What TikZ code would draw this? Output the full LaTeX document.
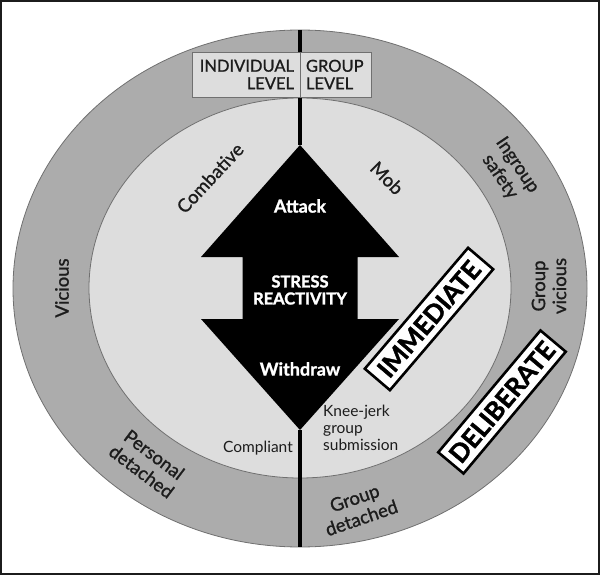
\documentclass[tikz,border=0pt]{standalone}
\usepackage{fontspec}
\setmainfont{Lato}
\newfontfamily\medium{Lato}[FakeBold=1.1]
\newfontfamily\heavy{Lato}[BoldFeatures={FakeBold=1.6}]
\usetikzlibrary{positioning}

\definecolor{ringgray}{RGB}{172,172,172}
\definecolor{coregray}{RGB}{221,221,221}
\definecolor{edgegray}{RGB}{112,112,112}
\definecolor{inkgray}{RGB}{28,28,28}

\begin{document}
\begin{tikzpicture}[x=1pt,y=-1pt,
    ringlabel/.style={text=inkgray,font=\medium\fontsize{18.5}{21}\selectfont,align=center,inner sep=0pt},
    corelabel/.style={text=inkgray,font=\fontsize{15.5}{17}\selectfont,inner sep=0pt},
    arrowlabel/.style={text=white,font=\medium\bfseries\fontsize{18}{17}\selectfont,align=center,inner sep=0pt},
    speedbox/.style={draw=black,line width=2.6pt,fill=white,text=black,
        font=\heavy\bfseries\fontsize{25.5}{25}\selectfont,minimum width=159pt,minimum height=33pt,inner sep=0pt},
    levelbox/.style={draw=edgegray,line width=0.8pt,fill=coregray,text=inkgray,outer sep=0pt,
        font=\medium\fontsize{16.5}{17.5}\selectfont,minimum height=45pt,inner xsep=6pt,inner ysep=0pt}]

    \useasboundingbox (0,0) rectangle (600,575);
    \draw[inkgray,line width=1.4pt] (1,1) rectangle (599,574);

    % Rings:
    \filldraw[fill=ringgray,draw=edgegray,line width=0.8pt] (300,288.5) ellipse [x radius=287pt,y radius=258.5pt];
    \filldraw[fill=coregray,draw=edgegray,line width=0.8pt] (300,288) ellipse [x radius=211pt,y radius=190pt];

    % Divider between the two levels:
    \coordinate (ring top) at (300,30);
    \coordinate (ring bottom) at (300,547);
    \coordinate (attack tip) at (300,145);
    \coordinate (withdraw tip) at (300,430);
    \draw[black,line width=3.4pt] (ring top) -- (attack tip);
    \draw[black,line width=3.4pt] (withdraw tip) -- (ring bottom);

    % Double arrow:
    \fill[black] (attack tip) -- (399,257) -- (357.5,257) -- (357.5,319) -- (399,319)
        -- (withdraw tip) -- (201,319) -- (242.5,319) -- (242.5,257) -- (201,257) -- cycle;

    \node[levelbox,anchor=north east,text width=96pt,align=right] (individual) at (300,52) {INDIVIDUAL\\LEVEL};
    \node[levelbox,anchor=west,text width=59pt,align=left,right=0pt of individual] (group) {GROUP\\LEVEL};

    \node[arrowlabel] (attack) at (300,206) {Attack};
    \node[arrowlabel,font=\heavy\bfseries\fontsize{16.5}{17}\selectfont] (stress) at (300,290) {STRESS\\REACTIVITY};
    \node[arrowlabel] (withdraw) at (300,369) {Withdraw};

    % Inner ring:
    \node[ringlabel,rotate=47] (combative) at (210,178) {Combative};
    \node[ringlabel,rotate=-45] (mob) at (387,178) {Mob};
    \node[corelabel,anchor=base east] (compliant) at (293,452) {Compliant};
    \node[corelabel,anchor=north west,align=left] (kneejerk) at (323,405) {Knee-jerk\\group\\submission};

    % Outer ring:
    \node[ringlabel,rotate=90] (vicious) at (62,288) {Vicious};
    \node[ringlabel,rotate=-56] (ingroup) at (508.5,171) {Ingroup\\safety};
    \node[ringlabel,rotate=90] (groupvicious) at (549,286) {Group\\vicious};
    \node[ringlabel,rotate=-37] (personal) at (148,463) {Personal\\detached};
    \node[ringlabel,rotate=19] (groupdetached) at (358,508) {Group\\detached};

    \node[speedbox,rotate=49.5] (immediate) at (429,319) {IMMEDIATE};
    \node[speedbox,rotate=50] (deliberate) at (502,402) {DELIBERATE};
\end{tikzpicture}
\end{document}
